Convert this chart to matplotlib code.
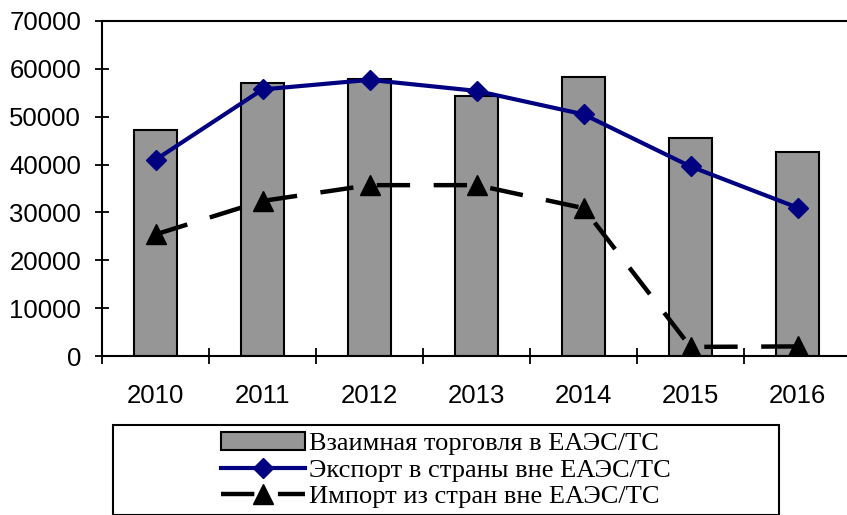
import matplotlib
matplotlib.use("Agg")
import matplotlib.pyplot as plt
from matplotlib.patches import Rectangle
import numpy as np

years = ['2010', '2011', '2012', '2013', '2014', '2015', '2016']
mutual = [47200, 57000, 57900, 54300, 58400, 45600, 42600]
export = [41000, 55700, 57700, 55400, 50500, 39600, 31000]
imports = [25400, 32400, 35700, 35700, 30900, 1900, 2000]

lbl_mutual = 'Взаимная торговля в ЕАЭС/ТС'
lbl_export = 'Экспорт в страны вне ЕАЭС/ТС'
lbl_import = 'Импорт из стран вне ЕАЭС/ТС'

W, H = 847, 515
fig = plt.figure(figsize=(W/100, H/100), dpi=100, facecolor='w')
ax = fig.add_axes([102/W, 1-356/H, 749/W, 335/H])

x = np.arange(len(years))
b = ax.bar(x, mutual, width=0.41, color='#969696', edgecolor='k', linewidth=1.5, label=lbl_mutual, zorder=2)
l1, = ax.plot(x, export, '-', color='#000080', linewidth=3, marker='D', markersize=10.5,
              label=lbl_export, zorder=3)
l2, = ax.plot(x, imports, '--', color='k', linewidth=3.2, dashes=(7.5, 5.3), marker='^', markersize=15,
              label=lbl_import, zorder=3)

ax.set_xlim(-0.5, len(years)-0.5)
ax.set_ylim(0, 70000)
ax.set_yticks(np.arange(0, 70001, 10000))

ax.set_xticks(np.arange(-0.5, len(years), 1.0))
ax.set_xticklabels([])
ax.set_xticks(x, minor=True)
ax.set_xticklabels(years, minor=True)
ax.tick_params(axis='x', which='minor', length=0, pad=20, labelsize=18.5)
ax.tick_params(axis='x', which='major', direction='inout', length=11, width=1.3)
ax.tick_params(axis='y', direction='inout', length=10, width=1.3, pad=10, labelsize=18.5)
for lab in ax.get_xticklabels(minor=True) + ax.get_yticklabels():
    lab.set_fontfamily('Liberation Sans')

for s in ax.spines.values():
    s.set_linewidth(1.5)

# legend box
fig.patches.append(Rectangle((113/W, 0), (779-113)/W, 1-425/H, transform=fig.transFigure,
                             fill=False, edgecolor='k', linewidth=1.5))
leg = fig.legend([b, l1, l2], [lbl_mutual, lbl_export, lbl_import],
                 loc='center', bbox_to_anchor=(446/W, 1-470/H), frameon=False,
                 prop={'family': 'Liberation Serif', 'size': 19}, labelspacing=0.12,
                 handlelength=3.2, handleheight=0.65, handletextpad=0.15, numpoints=1,
                 borderpad=0)

fig.savefig('out.png', dpi=100)
